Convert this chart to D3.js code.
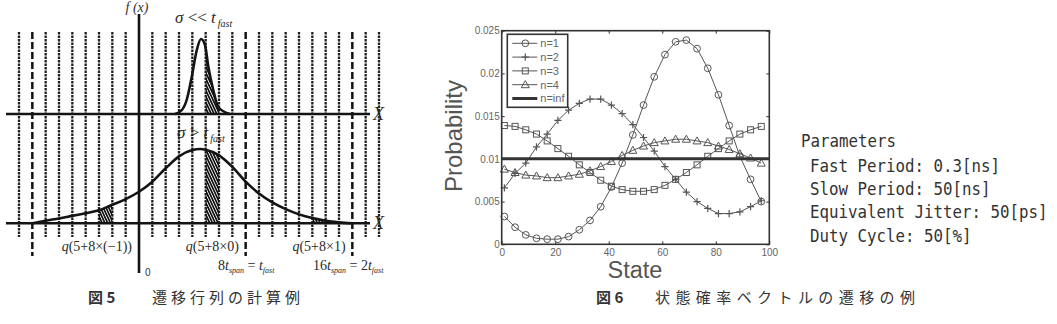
<!DOCTYPE html>
<html>
<head>
<meta charset="utf-8">
<script src="https://cdn.jsdelivr.net/npm/d3@7"></script>
<style>
  body { margin: 0; background: #fff; }
  svg { display: block; }
</style>
</head>
<body>
<div id="chart"></div>
<script>
// ---------------- Figure 5 data (units of t_span) ----------------
const gridUnits = [-9, -8, -7, -6, -5, -4, -3, -2, -1, 0, 1, 2, 3, 4, 5, 6, 7, 8, 9, 10, 11, 12, 13, 14, 15, 16, 17, 18];
const dashedUnits = [-8, 8, 16];

// narrow pdf (sigma << t_fast), normalised height
const sharpU = [2.7, 3.2, 3.58, 3.95, 4.33, 4.65, 4.95, 5.2, 5.57, 5.95, 6.83];
const sharpF = [0, 0.05, 0.19, 0.49, 0.85, 1.0, 0.92, 0.63, 0.32, 0.09, 0];

// wide pdf (sigma > t_fast), normalised height
const wideU = [-8, -7, -6, -5, -4, -3, -2, -1, 0, 1, 2, 3, 4, 4.6, 5, 6, 7, 8, 9, 10, 11, 12, 13, 14, 15, 16];
const wideF = [0, 0.035, 0.065, 0.1, 0.135, 0.175, 0.25, 0.325, 0.425, 0.56, 0.74, 0.9, 0.985, 1.0, 0.99, 0.915, 0.76, 0.56, 0.4, 0.28, 0.19, 0.12, 0.07, 0.035, 0.013, 0];

const sharpBins = [[5, 6]];
const wideBins = [[-3, -2], [5, 6], [13, 14]];
const qLabels = ["(5+8×(−1))", "(5+8×0)", "(5+8×1)"];

// ---------------- Figure 6 data ----------------
const states = [1, 5, 9, 13, 17, 21, 25, 29, 33, 37, 41, 45, 49, 53, 57, 61, 65, 69, 73, 77, 81, 85, 89, 93, 97];
const probN1 = [0.00325, 0.0020, 0.0011, 0.0007, 0.0006, 0.0006, 0.0009, 0.0017, 0.0028, 0.0044, 0.0067, 0.0095, 0.0128,
  0.0163, 0.0196, 0.0222, 0.0237, 0.0239, 0.0229, 0.0206, 0.0175, 0.0139, 0.0103, 0.0076, 0.0050];
const probN2 = [0.0066, 0.0083, 0.0095, 0.0114, 0.0129, 0.0145, 0.0157, 0.0165, 0.0170, 0.0170, 0.0163, 0.0153, 0.0140,
  0.0125, 0.0109, 0.0091, 0.0076, 0.0061, 0.0050, 0.0042, 0.0036, 0.0036, 0.0038, 0.0044, 0.0051];
const probN3 = [0.0139, 0.0138, 0.0134, 0.0129, 0.0121, 0.0112, 0.0103, 0.0093, 0.0084, 0.0075, 0.0068, 0.0064, 0.0062,
  0.0062, 0.0064, 0.0069, 0.0076, 0.0084, 0.0093, 0.0103, 0.0112, 0.0121, 0.0129, 0.0134, 0.0138];
const probN4 = [0.0088, 0.0084, 0.0081, 0.0080, 0.0078, 0.0078, 0.0080, 0.0082, 0.0086, 0.0091, 0.0097, 0.0104, 0.0110,
  0.0115, 0.0119, 0.0121, 0.0123, 0.0123, 0.0121, 0.0119, 0.0115, 0.0111, 0.0106, 0.0101, 0.0095];
const probInf = 0.01;
const seriesNames = ["n=1", "n=2", "n=3", "n=4", "n=inf"];
const markerKinds = ["circle", "plus", "square", "triangle", "none"];
const xTicks = [0, 20, 40, 60, 80, 100];
const yTicks = [0, 0.005, 0.01, 0.015, 0.02, 0.025];

const paramTitle = "Parameters";
const paramLines = ["Fast Period: 0.3[ns]", "Slow Period: 50[ns]", "Equivalent Jitter: 50[ps]", "Duty Cycle: 50[%]"];

const svg = d3.select("#chart").append("svg")
  .attr("width", 1057)
  .attr("height", 324);

const defs = svg.append("defs");
const hatch = defs.append("pattern")
  .attr("id", "hatch")
  .attr("patternUnits", "userSpaceOnUse")
  .attr("width", 2.5)
  .attr("height", 6)
  .attr("patternTransform", "rotate(-25)");
hatch.append("rect").attr("width", 1.7).attr("height", 6).attr("fill", "#111");

// ================= Figure 5 =================
const xU = d3.scaleLinear().domain([-9, 18]).range([19, 379]);
const yTop = d3.scaleLinear().domain([0, 1]).range([114, 39]);
const yBot = d3.scaleLinear().domain([0, 1]).range([223.3, 149]);
const serif = "Liberation Serif";
const ink = "#141414";

const fig5 = svg.append("g");

// dotted grid
fig5.selectAll(".grid")
  .data(gridUnits.filter(u => u !== 0 && !dashedUnits.includes(u)))
  .enter().append("line")
  .attr("x1", d => xU(d)).attr("x2", d => xU(d))
  .attr("y1", 32).attr("y2", 237)
  .attr("stroke", "#1e1e1e")
  .attr("stroke-width", 2.3)
  .attr("stroke-dasharray", "2.4,1.1");

// dashed t_fast boundaries
fig5.selectAll(".dash")
  .data(dashedUnits)
  .enter().append("line")
  .attr("x1", d => xU(d)).attr("x2", d => xU(d))
  .attr("y1", 32).attr("y2", 256)
  .attr("stroke", ink)
  .attr("stroke-width", 2.5)
  .attr("stroke-dasharray", "7,3");

// horizontal axes
[yTop(0), yBot(0)].forEach(y => {
  fig5.append("line")
    .attr("x1", 6).attr("x2", 370)
    .attr("y1", y).attr("y2", y)
    .attr("stroke", ink).attr("stroke-width", 2.6);
});

// curves + hatched bins
function drawPdf(us, fs, yScale, bins, key) {
  const pts = us.map((u, i) => [u, fs[i]]);
  const area = d3.area().x(d => xU(d[0])).y0(yScale(0)).y1(d => yScale(d[1])).curve(d3.curveMonotoneX);
  const line = d3.line().x(d => xU(d[0])).y(d => yScale(d[1])).curve(d3.curveMonotoneX);
  bins.forEach((b, i) => {
    const id = `clip-${key}-${i}`;
    defs.append("clipPath").attr("id", id)
      .append("rect")
      .attr("x", xU(b[0])).attr("width", xU(b[1]) - xU(b[0]))
      .attr("y", 0).attr("height", 324);
    fig5.append("path")
      .datum(pts)
      .attr("d", area)
      .attr("fill", "url(#hatch)")
      .attr("clip-path", `url(#${id})`);
  });
  fig5.append("path")
    .datum(pts)
    .attr("d", line)
    .attr("fill", "none")
    .attr("stroke", ink)
    .attr("stroke-width", 2.6);
}
drawPdf(sharpU, sharpF, yTop, sharpBins, "s");
drawPdf(wideU, wideF, yBot, wideBins, "w");

// vertical f(x) axis
fig5.append("line")
  .attr("x1", xU(0)).attr("x2", xU(0))
  .attr("y1", 14).attr("y2", 273)
  .attr("stroke", ink).attr("stroke-width", 2.6);

// labels
fig5.append("text")
  .attr("x", xU(0) - 2).attr("y", 12)
  .attr("text-anchor", "middle")
  .attr("font-family", serif).attr("font-size", 14).attr("font-style", "italic")
  .attr("fill", "#333")
  .text("f (x)");

function sigmaLabel(x, y, rel) {
  const t = fig5.append("text")
    .attr("x", x).attr("y", y)
    .attr("font-family", serif).attr("font-size", 17).attr("fill", "#2a2a2a");
  t.append("tspan").attr("font-style", "italic").text("σ");
  t.append("tspan").text(" " + rel + " ");
  t.append("tspan").attr("font-style", "italic").text("t");
  t.append("tspan").attr("font-style", "italic").attr("font-size", 10).attr("dy", 4).attr("dx", 2).text("fast");
}
sigmaLabel(175, 23, "<<");
sigmaLabel(177, 137.5, ">");

[yTop(0), yBot(0)].forEach(y => {
  fig5.append("text")
    .attr("x", 373).attr("y", y + 5.5)
    .attr("font-family", serif).attr("font-size", 18).attr("font-style", "italic")
    .attr("fill", "#2a2a2a")
    .text("X");
});

wideBins.forEach((b, i) => {
  const t = fig5.append("text")
    .attr("y", 251)
    .attr("font-family", serif).attr("font-size", 14).attr("fill", "#2a2a2a");
  if (i === 0) t.attr("x", xU(0) - 7).attr("text-anchor", "end");
  else t.attr("x", xU((b[0] + b[1]) / 2)).attr("text-anchor", "middle");
  t.append("tspan").attr("font-style", "italic").text("q");
  t.append("tspan").text(qLabels[i]);
});

fig5.append("text")
  .attr("x", xU(0) + 6).attr("y", 276)
  .attr("font-family", "Liberation Sans").attr("font-size", 10).attr("fill", "#333")
  .text("0");

function spanLabel(x, lead, rhs) {
  const t = fig5.append("text")
    .attr("x", x).attr("y", 270)
    .attr("font-family", serif).attr("font-size", 14).attr("fill", "#2a2a2a");
  t.append("tspan").text(lead);
  t.append("tspan").attr("font-style", "italic").text("t");
  t.append("tspan").attr("font-style", "italic").attr("font-size", 8).attr("dy", 3).text("span");
  t.append("tspan").attr("dy", -3).text(" = " + rhs);
  t.append("tspan").attr("font-style", "italic").text("t");
  t.append("tspan").attr("font-style", "italic").attr("font-size", 8).attr("dy", 3).text("fast");
}
spanLabel(218, "8", "");
spanLabel(313, "16", "2");

// ================= Figure 6 =================
const x = d3.scaleLinear().domain([0, 100]).range([501.7, 769.3]);
const y = d3.scaleLinear().domain([0, 0.025]).range([244.3, 30.7]);
const sans = "Liberation Sans";
const gray = "#555";

const fig6 = svg.append("g");

function styleAxis(g) {
  g.select(".domain").remove();
  g.selectAll(".tick line").attr("stroke", "#333");
  g.selectAll(".tick text").attr("fill", "#666").attr("font-family", sans).attr("font-size", 10);
}

fig6.append("g")
  .attr("transform", `translate(0,${y(0)})`)
  .call(d3.axisBottom(x).tickValues(xTicks).tickSizeInner(-3).tickSizeOuter(0).tickPadding(5))
  .call(styleAxis);
fig6.append("g")
  .attr("transform", `translate(0,${y(0.025)})`)
  .call(d3.axisTop(x).tickValues(xTicks).tickSizeInner(-3).tickSizeOuter(0).tickFormat(""))
  .call(styleAxis);
fig6.append("g")
  .attr("transform", `translate(${x(0)},0)`)
  .call(d3.axisLeft(y).tickValues(yTicks).tickSizeInner(-3).tickSizeOuter(0).tickPadding(2).tickFormat(d3.format("")))
  .call(styleAxis);
fig6.append("g")
  .attr("transform", `translate(${x(100)},0)`)
  .call(d3.axisRight(y).tickValues(yTicks).tickSizeInner(-3).tickSizeOuter(0).tickFormat(""))
  .call(styleAxis);

const line = d3.line().x(d => x(d[0])).y(d => y(d[1]));
const allSeries = [probN1, probN2, probN3, probN4];

function drawMarker(g, kind, cx, cy) {
  if (kind === "circle") {
    g.append("circle").attr("cx", cx).attr("cy", cy).attr("r", 3.4)
      .attr("fill", "none").attr("stroke", gray).attr("stroke-width", 1);
  } else if (kind === "square") {
    g.append("rect").attr("x", cx - 3).attr("y", cy - 3).attr("width", 6).attr("height", 6)
      .attr("fill", "none").attr("stroke", gray).attr("stroke-width", 1);
  } else if (kind === "triangle") {
    g.append("path").attr("d", `M${cx},${cy - 4}L${cx + 4},${cy + 3}L${cx - 4},${cy + 3}Z`)
      .attr("fill", "none").attr("stroke", gray).attr("stroke-width", 1);
  } else if (kind === "plus") {
    g.append("path").attr("d", `M${cx - 3.6},${cy}H${cx + 3.6}M${cx},${cy - 3.6}V${cy + 3.6}`)
      .attr("fill", "none").attr("stroke", gray).attr("stroke-width", 1.2);
  }
}

allSeries.forEach((vals, i) => {
  const pts = states.map((s, j) => [s, vals[j]]);
  fig6.append("path")
    .datum(pts)
    .attr("d", line)
    .attr("fill", "none")
    .attr("stroke", gray)
    .attr("stroke-width", 1);
  const mg = fig6.append("g");
  pts.forEach(p => drawMarker(mg, markerKinds[i], x(p[0]), y(p[1])));
});

fig6.append("line")
  .attr("x1", x(0)).attr("x2", x(100))
  .attr("y1", y(probInf)).attr("y2", y(probInf))
  .attr("stroke", "#333").attr("stroke-width", 3);

// frame
fig6.append("rect")
  .attr("x", x(0)).attr("y", y(0.025))
  .attr("width", x(100) - x(0)).attr("height", y(0) - y(0.025))
  .attr("fill", "none").attr("stroke", "#333").attr("stroke-width", 1.6);

// legend
const legend = fig6.append("g").attr("transform", "translate(507.3,34.3)");
legend.append("rect")
  .attr("width", 60.4).attr("height", 73)
  .attr("fill", "#fff").attr("stroke", "#333").attr("stroke-width", 1.6);
seriesNames.forEach((name, i) => {
  const ly = 9 + i * 13.8;
  legend.append("line")
    .attr("x1", 5).attr("x2", 30)
    .attr("y1", ly).attr("y2", ly)
    .attr("stroke", i === 4 ? "#333" : gray)
    .attr("stroke-width", i === 4 ? 3 : 1);
  drawMarker(legend, markerKinds[i], 18, ly);
  legend.append("text")
    .attr("x", 33).attr("y", ly + 4)
    .attr("font-family", sans).attr("font-size", 11).attr("fill", "#666")
    .text(name);
});

// axis titles
fig6.append("text")
  .attr("x", 635).attr("y", 278)
  .attr("text-anchor", "middle")
  .attr("font-family", sans).attr("font-size", 23.5).attr("fill", gray)
  .text("State");
fig6.append("text")
  .attr("transform", "translate(462,136) rotate(-90)")
  .attr("text-anchor", "middle")
  .attr("font-family", sans).attr("font-size", 24).attr("fill", gray)
  .text("Probability");

// parameters block (narrow, tall monospace look)
const mono = "DejaVu Sans Mono";
svg.append("text")
  .attr("transform", "translate(801,147) scale(1,1.13)")
  .attr("font-family", mono).attr("font-size", 15.8).attr("fill", "#333")
  .text(paramTitle);
paramLines.forEach((s, i) => {
  svg.append("text")
    .attr("transform", `translate(810,${171.5 + i * 23.4}) scale(1,1.13)`)
    .attr("font-family", mono).attr("font-size", 15.8).attr("fill", "#333")
    .text(s);
});

// captions
const cjk = "Noto Sans CJK JP";
function caption(x0, num, x1, body, len) {
  svg.append("text")
    .attr("x", x0).attr("y", 303)
    .attr("font-family", cjk).attr("font-size", 15).attr("font-weight", "bold").attr("fill", "#333")
    .text(num);
  svg.append("text")
    .attr("x", x1).attr("y", 303)
    .attr("font-family", cjk).attr("font-size", 15).attr("fill", "#333")
    .attr("textLength", len).attr("lengthAdjust", "spacing")
    .text(body);
}
caption(88, "図 5", 152, "遷移行列の計算例", 148);
caption(596, "図 6", 655, "状態確率ベクトルの遷移の例", 260);
</script>
</body>
</html>
